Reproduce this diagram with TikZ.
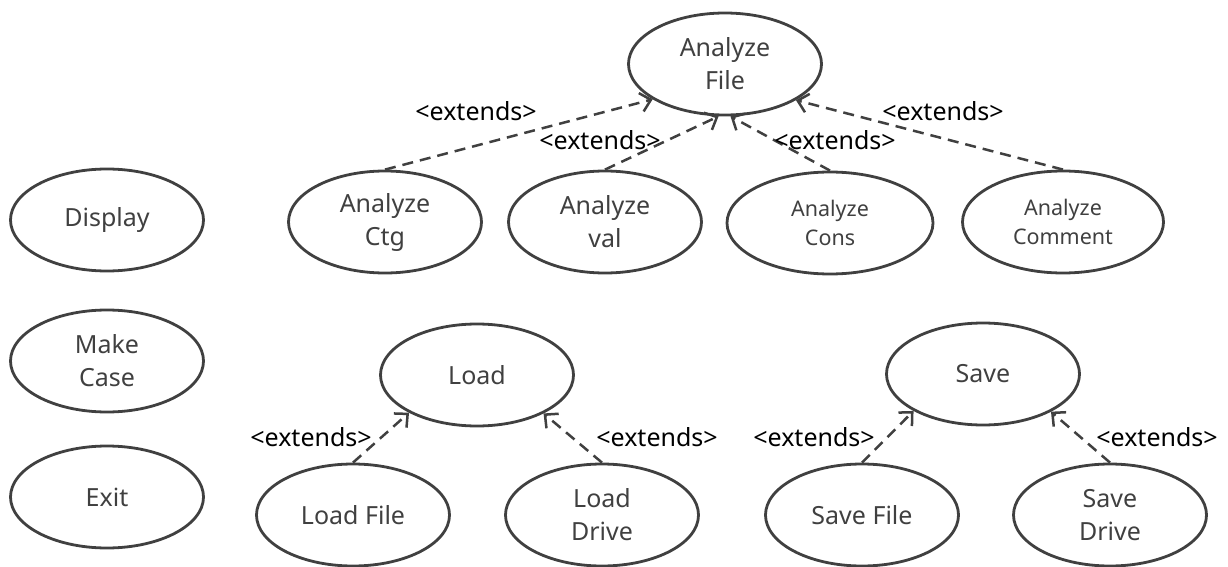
\documentclass[tikz,border=0pt]{standalone}
\usepackage{fontspec}
\setmainfont{Noto Sans}
\usetikzlibrary{shapes.geometric,arrows.meta}
\definecolor{ink}{HTML}{404040}
\begin{document}
\begin{tikzpicture}[x=1pt,y=-1pt,
  usecase/.style={ellipse,draw=ink,line width=2.8pt,minimum width=193pt,minimum height=102pt,
    inner sep=0pt,text=ink,align=center,font=\fontsize{25}{33}\selectfont},
  small/.style={font=\fontsize{21.5}{29}\selectfont},
  ext/.style={draw=ink,line width=2.5pt,dash pattern=on 11pt off 7pt,
    -{Straight Barb[length=10pt,width=19pt,line width=2.5pt]}},
  extlbl/.style={font=\fontsize{25}{30}\selectfont,text=black,inner sep=0pt}]
\useasboundingbox (0,0) rectangle (1228,567);

% actors' use cases on the left
\node[usecase] (disp) at (107,220) {Display};
\node[usecase] (mkcase) at (107,361) {Make\\Case};
\node[usecase] (exitc) at (107,497) {Exit};

% analysis group
\node[usecase] (af) at (725,64) {Analyze\\File};
\node[usecase] (ctg) at (385,222) {Analyze\\Ctg};
\node[usecase] (val) at (605,222) {Analyze\\val};
\node[usecase,small,minimum width=206pt] (cons) at (830,223) {Analyze\\Cons};
\node[usecase,small,minimum width=201pt] (cmt) at (1063,222) {Analyze\\Comment};

% load group
\node[usecase] (load) at (477,375) {Load};
\node[usecase] (lfile) at (353,515) {Load File};
\node[usecase] (ldrive) at (602,515) {Load\\Drive};

% save group
\node[usecase] (save) at (983,374) {Save};
\node[usecase] (sfile) at (862,515) {Save File};
\node[usecase] (sdrive) at (1110,515) {Save\\Drive};

% extend relations
\draw[ext] (ctg.north) -- (af.206);
\draw[ext] (val.north) -- (af.263);
\draw[ext] (cons.north) -- (af.276);
\draw[ext] (cmt.north) -- (af.333);
\draw[ext] (lfile.north) -- (load.209);
\draw[ext] (ldrive.north) -- (load.330);
\draw[ext] (sfile.north) -- (save.208);
\draw[ext] (sdrive.north) -- (save.331);

% relation labels
\node[extlbl] (l1) at (476,111) {<extends>};
\node[extlbl] (l2) at (600,140) {<extends>};
\node[extlbl] (l3) at (835,140) {<extends>};
\node[extlbl] (l4) at (943,111) {<extends>};
\node[extlbl] (l5) at (311,437) {<extends>};
\node[extlbl] (l6) at (657,437) {<extends>};
\node[extlbl] (l7) at (814,437) {<extends>};
\node[extlbl] (l8) at (1157,437) {<extends>};
\end{tikzpicture}
\end{document}
